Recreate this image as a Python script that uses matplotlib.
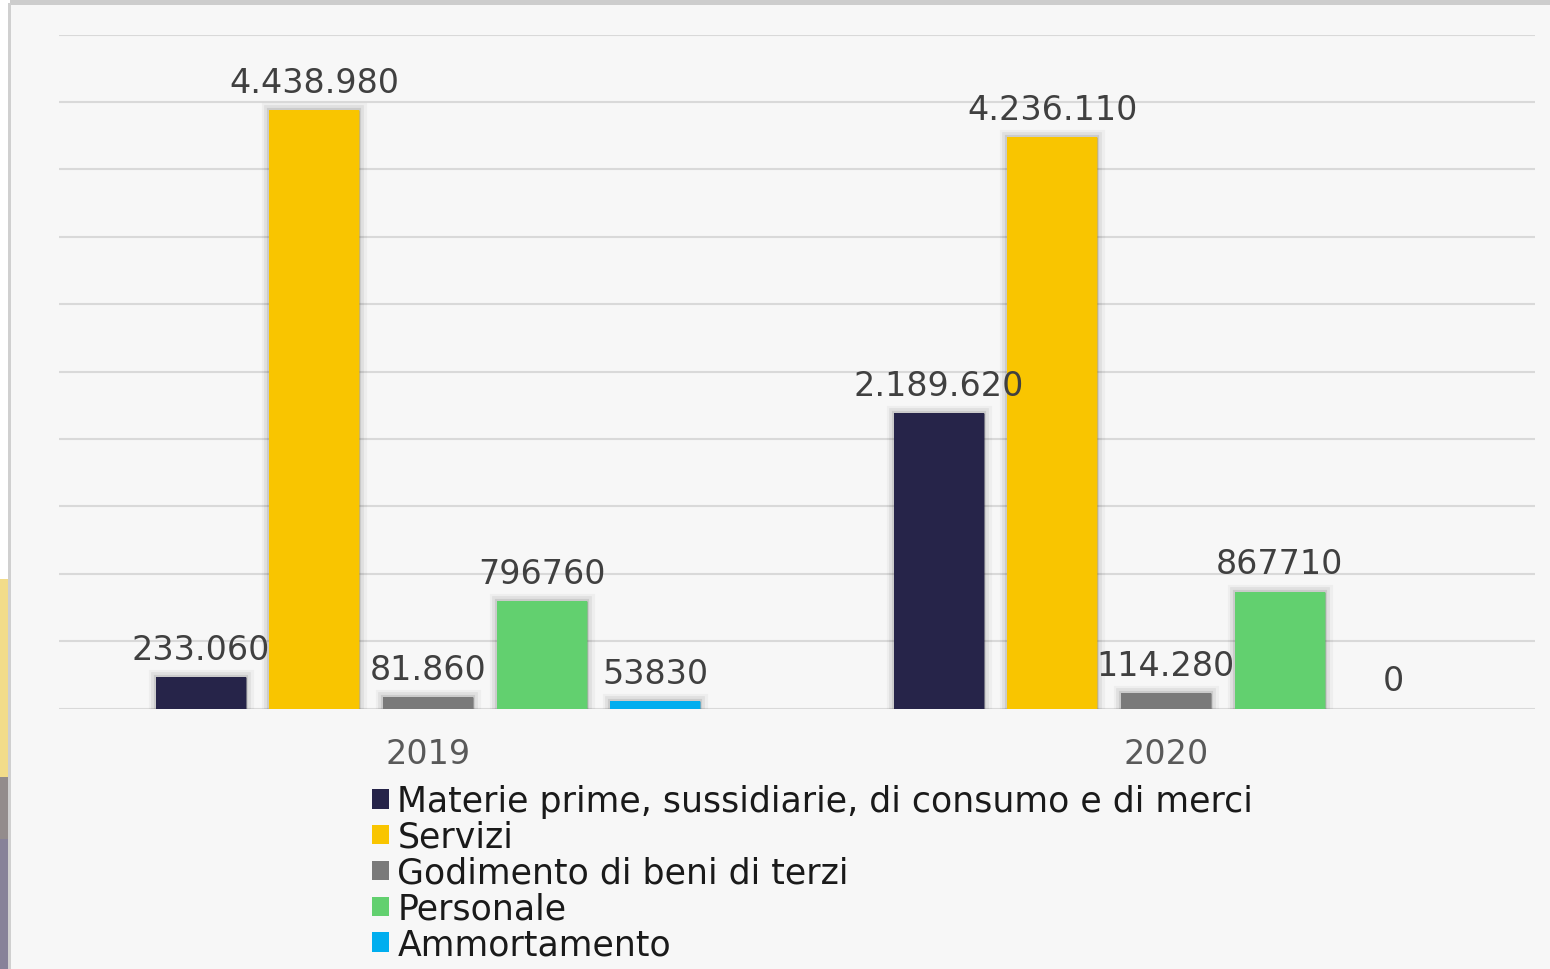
import numpy as np
import matplotlib.pyplot as plt
import matplotlib.patheffects as pe
from matplotlib.patches import Rectangle

# 数据
years = ['2019', '2020']
series = ['Materie prime, sussidiarie, di consumo e di merci', 'Servizi',
          'Godimento di beni di terzi', 'Personale', 'Ammortamento']
values = [
    [233060, 2189620],
    [4438980, 4236110],
    [81860, 114280],
    [796760, 867710],
    [53830, 0],
]
labels = [
    ['233.060', '2.189.620'],
    ['4.438.980', '4.236.110'],
    ['81.860', '114.280'],
    ['796760', '867710'],
    ['53830', '0'],
]
colors = ['#262449', '#F9C500', '#7A7A7A', '#62D06F', '#00AEEF']

W, H = 1550, 970
fig = plt.figure(figsize=(W / 100, H / 100), dpi=100)
fig.patch.set_facecolor('white')

# 背景面板和左侧的边条
def fig_rect(x0, y0, x1, y1, c):
    # 像素坐标（左上为原点）
    fig.patches.append(Rectangle((x0 / W, 1 - y1 / H), (x1 - x0) / W, (y1 - y0) / H,
                                 transform=fig.transFigure, facecolor=c,
                                 edgecolor='none', zorder=-10))

fig_rect(10, 6, W, H, '#F7F7F7')
fig_rect(10, 0, W, 6, '#CDCDCD')
fig_rect(8, 4, 11, H, '#D0D0D0')
fig_rect(0, 580, 8, 778, '#F2DC8A')
fig_rect(0, 778, 8, 840, '#938C8C')
fig_rect(0, 840, 8, H, '#878299')

ax = fig.add_axes([59 / W, 260.5 / H, 1476 / W, 674 / H])
ax.set_facecolor('none')
ax.set_xlim(-0.5, 1.5)
ax.set_ylim(0, 5000000)
ax.set_yticks(np.arange(0, 5000001, 500000))
ax.yaxis.grid(True, color='#D9D9D9', linewidth=1.5)
ax.set_axisbelow(True)
for s in ax.spines.values():
    s.set_visible(False)
ax.tick_params(left=False, bottom=False, labelleft=False)

x = np.arange(len(years))
step = 0.154
width = 0.122
shadow = [pe.Stroke(linewidth=11, foreground=(0, 0, 0, 0.035)),
          pe.Stroke(linewidth=7, foreground=(0, 0, 0, 0.06)),
          pe.Stroke(linewidth=3, foreground=(0, 0, 0, 0.09)),
          pe.Normal()]
handles = []
for i, (name, vals) in enumerate(zip(series, values)):
    pos = x + (i - 2) * step
    bars = ax.bar(pos, vals, width, color=colors[i], label=name, zorder=3)
    for b, v in zip(bars, vals):
        if v > 0:
            b.set_path_effects(shadow)
    handles.append(bars)
    for p, v, t in zip(pos, vals, labels[i]):
        ax.annotate(t, (p, v), xytext=(0, 20), textcoords='offset points',
                    ha='center', va='center', fontsize=24, color='#404040', zorder=5)

ax.set_xticks(x)
ax.set_xticklabels(years, fontsize=24, color='#595959')
ax.tick_params(axis='x', pad=17)

leg = fig.legend(handles=handles, loc='upper left', bbox_to_anchor=(372 / W, 1 - 785 / H),
                 frameon=False, fontsize=25, handlelength=0.5, handleheight=0.5,
                 handletextpad=0.23, labelspacing=0.055, borderpad=0, borderaxespad=0)
for t in leg.get_texts():
    t.set_color('#1A1A1A')
for h in leg.legend_handles:
    h.set_path_effects([])

fig.savefig('out.png', dpi=100, facecolor=fig.get_facecolor())
